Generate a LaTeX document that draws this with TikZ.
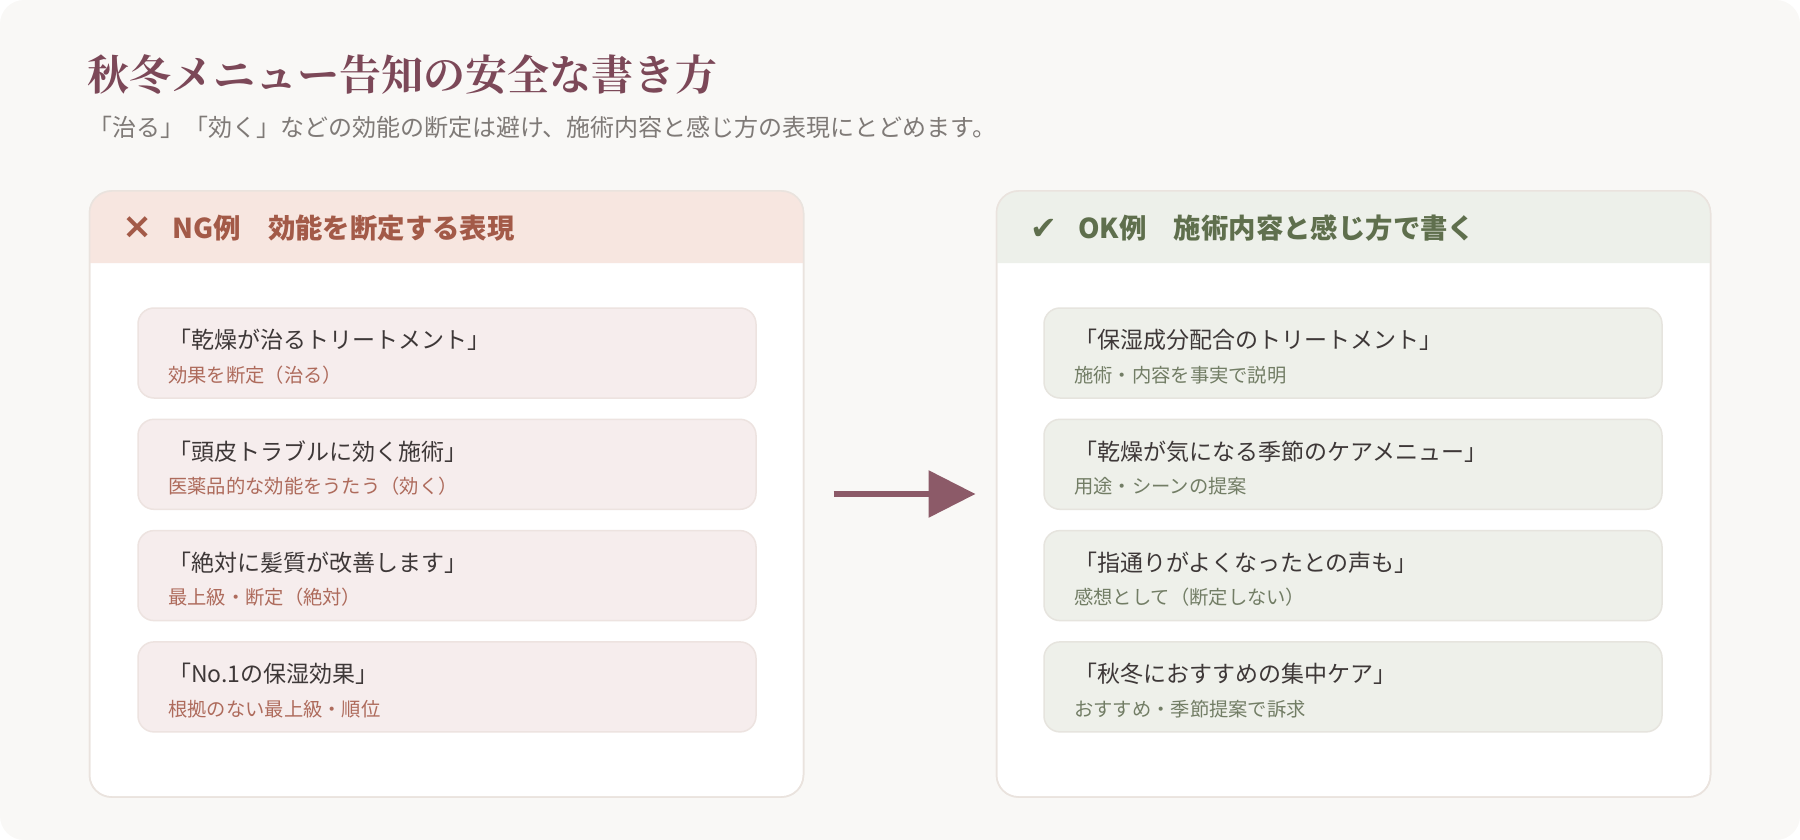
\documentclass[tikz,border=0pt]{standalone}
\usepackage{fontspec}
\usetikzlibrary{arrows.meta,calc}
\setmainfont{Noto Sans CJK JP}
\newfontfamily\mnSerif{Noto Serif CJK JP}
\newfontfamily\mnSym{DejaVu Sans}

\definecolor{mnPaper}{HTML}{F9F8F6}
\definecolor{mnLine}{HTML}{EAE3DE}
\definecolor{mnPlum}{HTML}{7C4858}
\definecolor{mnArrow}{HTML}{8C5A68}
\definecolor{mnGray}{HTML}{7F7A77}
\definecolor{mnInk}{HTML}{3E3838}
\definecolor{mnRust}{HTML}{A35A48}
\definecolor{mnRustSoft}{HTML}{AE6B5C}
\definecolor{mnRoseHead}{HTML}{F7E6E0}
\definecolor{mnRoseCard}{HTML}{F6EDED}
\definecolor{mnRoseEdge}{HTML}{EDE3E0}
\definecolor{mnOlive}{HTML}{5F6F4D}
\definecolor{mnOliveSoft}{HTML}{727D65}
\definecolor{mnSageHead}{HTML}{EDF0EA}
\definecolor{mnSageCard}{HTML}{EEF0EA}
\definecolor{mnSageEdge}{HTML}{E6E4DE}

\begin{document}
\begin{tikzpicture}[
  x=1pt, y=-1pt, text=mnInk,
  mn panel/.style={draw=mnLine,line width=1.5pt,fill=white,rounded corners=22pt,
    minimum width=714pt,minimum height=606pt,inner sep=0pt,outer sep=0pt},
  mn card/.style={line width=1.5pt,rounded corners=16pt,
    minimum width=618pt,minimum height=90pt,inner sep=0pt,outer sep=0pt},
  mn quote/.style={anchor=west,inner sep=0pt,text=mnInk,
    font=\fontsize{23}{27}\selectfont},
  mn note/.style={anchor=west,inner sep=0pt,font=\fontsize{19.3}{23}\selectfont},
  mn head/.style={anchor=west,inner sep=0pt,font=\fontsize{27.4}{32}\selectfont\bfseries},
  mn icon/.style={inner sep=0pt,font=\fontsize{32}{34}\selectfont\mnSym},
  mn arrow/.style={draw=mnArrow,line width=6pt,
    -{Triangle[length=47pt,width=46pt]}}
]
% Page: rounded paper on white.
\fill[mnPaper,rounded corners=24pt] (0,0) rectangle (1800,840);
\useasboundingbox (0,0) rectangle (1800,840);

% Title and lead line.
\node[anchor=west,inner sep=0pt,text=mnPlum,
  font=\fontsize{42}{50}\selectfont\mnSerif\bfseries] (title) at (87,75)
  {秋冬メニュー告知の安全な書き方};
\node[anchor=west,inner sep=0pt,text=mnGray,font=\fontsize{24}{28}\selectfont]
  (lead) at (88,127)
  {「治る」「効く」などの効能の断定は避け、施術内容と感じ方の表現にとどめます。};

% The two panels.
\node[mn panel] (ng) at (446.5,494) {};
\node[mn panel] (ok) at (1353.5,494) {};

% Header bands, rounded on top only; the border is drawn again over them.
\foreach \pp/\cc in {ng/mnRoseHead,ok/mnSageHead} {
  \fill[\cc] ([yshift=-72pt]\pp.north west) [rounded corners=22pt]
    -- (\pp.north west) -- (\pp.north east) [sharp corners]
    -- ([yshift=-72pt]\pp.north east) -- cycle;
  \draw[mnLine,line width=1.5pt,rounded corners=22pt]
    (\pp.north west) rectangle (\pp.south east);
}

% Header texts.
\node[mn icon,text=mnRust,font=\fontsize{36}{38}\selectfont\mnSym\bfseries]
  (ngmark) at (138,228) {×};
\node[mn head,text=mnRust] (nghead) at (172,228) {NG例　効能を断定する表現};
\node[mn icon,text=mnOlive] (okmark) at (1044,229) {✔};
\node[mn head,text=mnOlive] (okhead) at (1078,228) {OK例　施術内容と感じ方で書く};

% Example cards.
\foreach \i/\qq/\nn in {
    1/{「乾燥が治るトリートメント」}/{効果を断定（治る）},
    2/{「頭皮トラブルに効く施術」}/{医薬品的な効能をうたう（効く）},
    3/{「絶対に髪質が改善します」}/{最上級・断定（絶対）},
    4/{「No.1の保湿効果」}/{根拠のない最上級・順位}} {
  \node[mn card,fill=mnRoseCard,draw=mnRoseEdge] (ng\i) at (447,{353+(\i-1)*111.3}) {};
  \node[mn quote] (ng\i q) at ($(ng\i.north west)+(30,32)$) {\qq};
  \node[mn note,text=mnRustSoft] (ng\i n) at ($(ng\i.north west)+(30,67)$) {\nn};
}
\foreach \i/\qq/\nn in {
    1/{「保湿成分配合のトリートメント」}/{施術・内容を事実で説明},
    2/{「乾燥が気になる季節のケアメニュー」}/{用途・シーンの提案},
    3/{「指通りがよくなったとの声も」}/{感想として（断定しない）},
    4/{「秋冬におすすめの集中ケア」}/{おすすめ・季節提案で訴求}} {
  \node[mn card,fill=mnSageCard,draw=mnSageEdge] (ok\i) at (1353,{353+(\i-1)*111.3}) {};
  \node[mn quote] (ok\i q) at ($(ok\i.north west)+(30,32)$) {\qq};
  \node[mn note,text=mnOliveSoft] (ok\i n) at ($(ok\i.north west)+(30,67)$) {\nn};
}

% From NG to OK.
\draw[mn arrow,shorten <=30pt,shorten >=21pt] (ng) -- (ok);
\end{tikzpicture}
\end{document}
